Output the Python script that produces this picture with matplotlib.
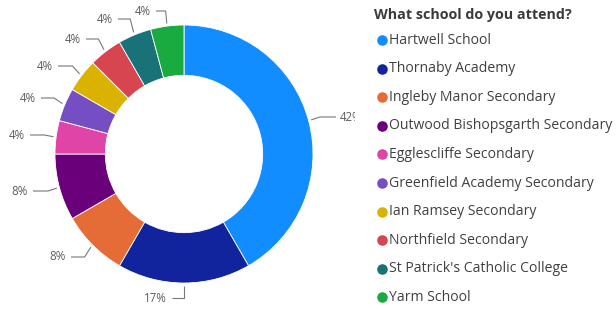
import numpy as np
import matplotlib
matplotlib.use('Agg')
from matplotlib import pyplot as plt
from matplotlib.transforms import Bbox

plt.rcParams['font.family'] = ['Open Sans', 'Noto Sans', 'DejaVu Sans']

schools = ['Hartwell School', 'Thornaby Academy', 'Ingleby Manor Secondary',
           'Outwood Bishopsgarth Secondary', 'Egglescliffe Secondary',
           'Greenfield Academy Secondary', 'Ian Ramsey Secondary',
           'Northfield Secondary', "St Patrick's Catholic College", 'Yarm School']
counts = [10, 4, 2, 2, 1, 1, 1, 1, 1, 1]
colors = ['#118DFF', '#12239E', '#E66C37', '#6B007B', '#E044A7',
          '#744EC2', '#D9B300', '#D64550', '#197278', '#1AAB40']

# label placement (pixels): text anchor x, y
label_pos = [(340, 117), (167, 298), (66, 257), (28, 191), (25, 135),
             (36, 98), (53, 66), (81, 39), (113, 19), (151, 11)]

W, H = 616, 309
cx, cy, R = 184, 154, 129

fig = plt.figure(figsize=(W / 100, H / 100), dpi=100)
ax = fig.add_axes([0, 0, 1, 1])


def px(x, y):
    return (x - cx) / R, (cy - y) / R


wedges, _ = ax.pie(counts, colors=colors, startangle=90, counterclock=False,
                   radius=1, wedgeprops=dict(width=0.39, linewidth=0.6, edgecolor='white'))
ax.set_xlim(-cx / R, (W - cx) / R)
ax.set_ylim(-(H - cy) / R, cy / R)
ax.set_aspect('equal')
ax.axis('off')

total = sum(counts)
grey = '#7a7876'
for i, w in enumerate(wedges):
    mid = np.deg2rad((w.theta1 + w.theta2) / 2)
    pct = '%d%%' % round(100 * counts[i] / total)
    sx, sy = 1.02 * np.cos(mid), 1.02 * np.sin(mid)
    lx, ly = px(*label_pos[i])
    ex = 1.09 * np.cos(mid)
    right = np.cos(mid) > 0.2
    if right:
        hx = lx - 4 / R
        ha = 'left'
    else:
        hx = lx + 5 / R
        ha = 'right'
    ax.plot([sx, ex, hx], [sy, ly, ly], color=grey, lw=0.8, solid_capstyle='butt')
    t = ax.text(lx, ly, pct, ha=ha, va='center', fontsize=8.3, color='#605E5C')
    if right:
        t.set_clip_box(Bbox.from_extents(0, 0, 355, H))
        t.set_clip_on(True)

# legend
tx, ty = px(374, 15)
ax.text(tx, ty, 'What school do you attend?', fontsize=10.3, fontweight='bold',
        color='#3a3a3a', ha='left', va='center')
for i, name in enumerate(schools):
    y = 40 + i * 28.6
    mx, my = px(382, y)
    ax.plot(mx, my, 'o', ms=7.6, color=colors[i], mec='none')
    nx, ny = px(389.5, y)
    ax.text(nx, ny, name, fontsize=10.1, color='#404040', ha='left', va='center')

plt.savefig('out.png', dpi=100)
